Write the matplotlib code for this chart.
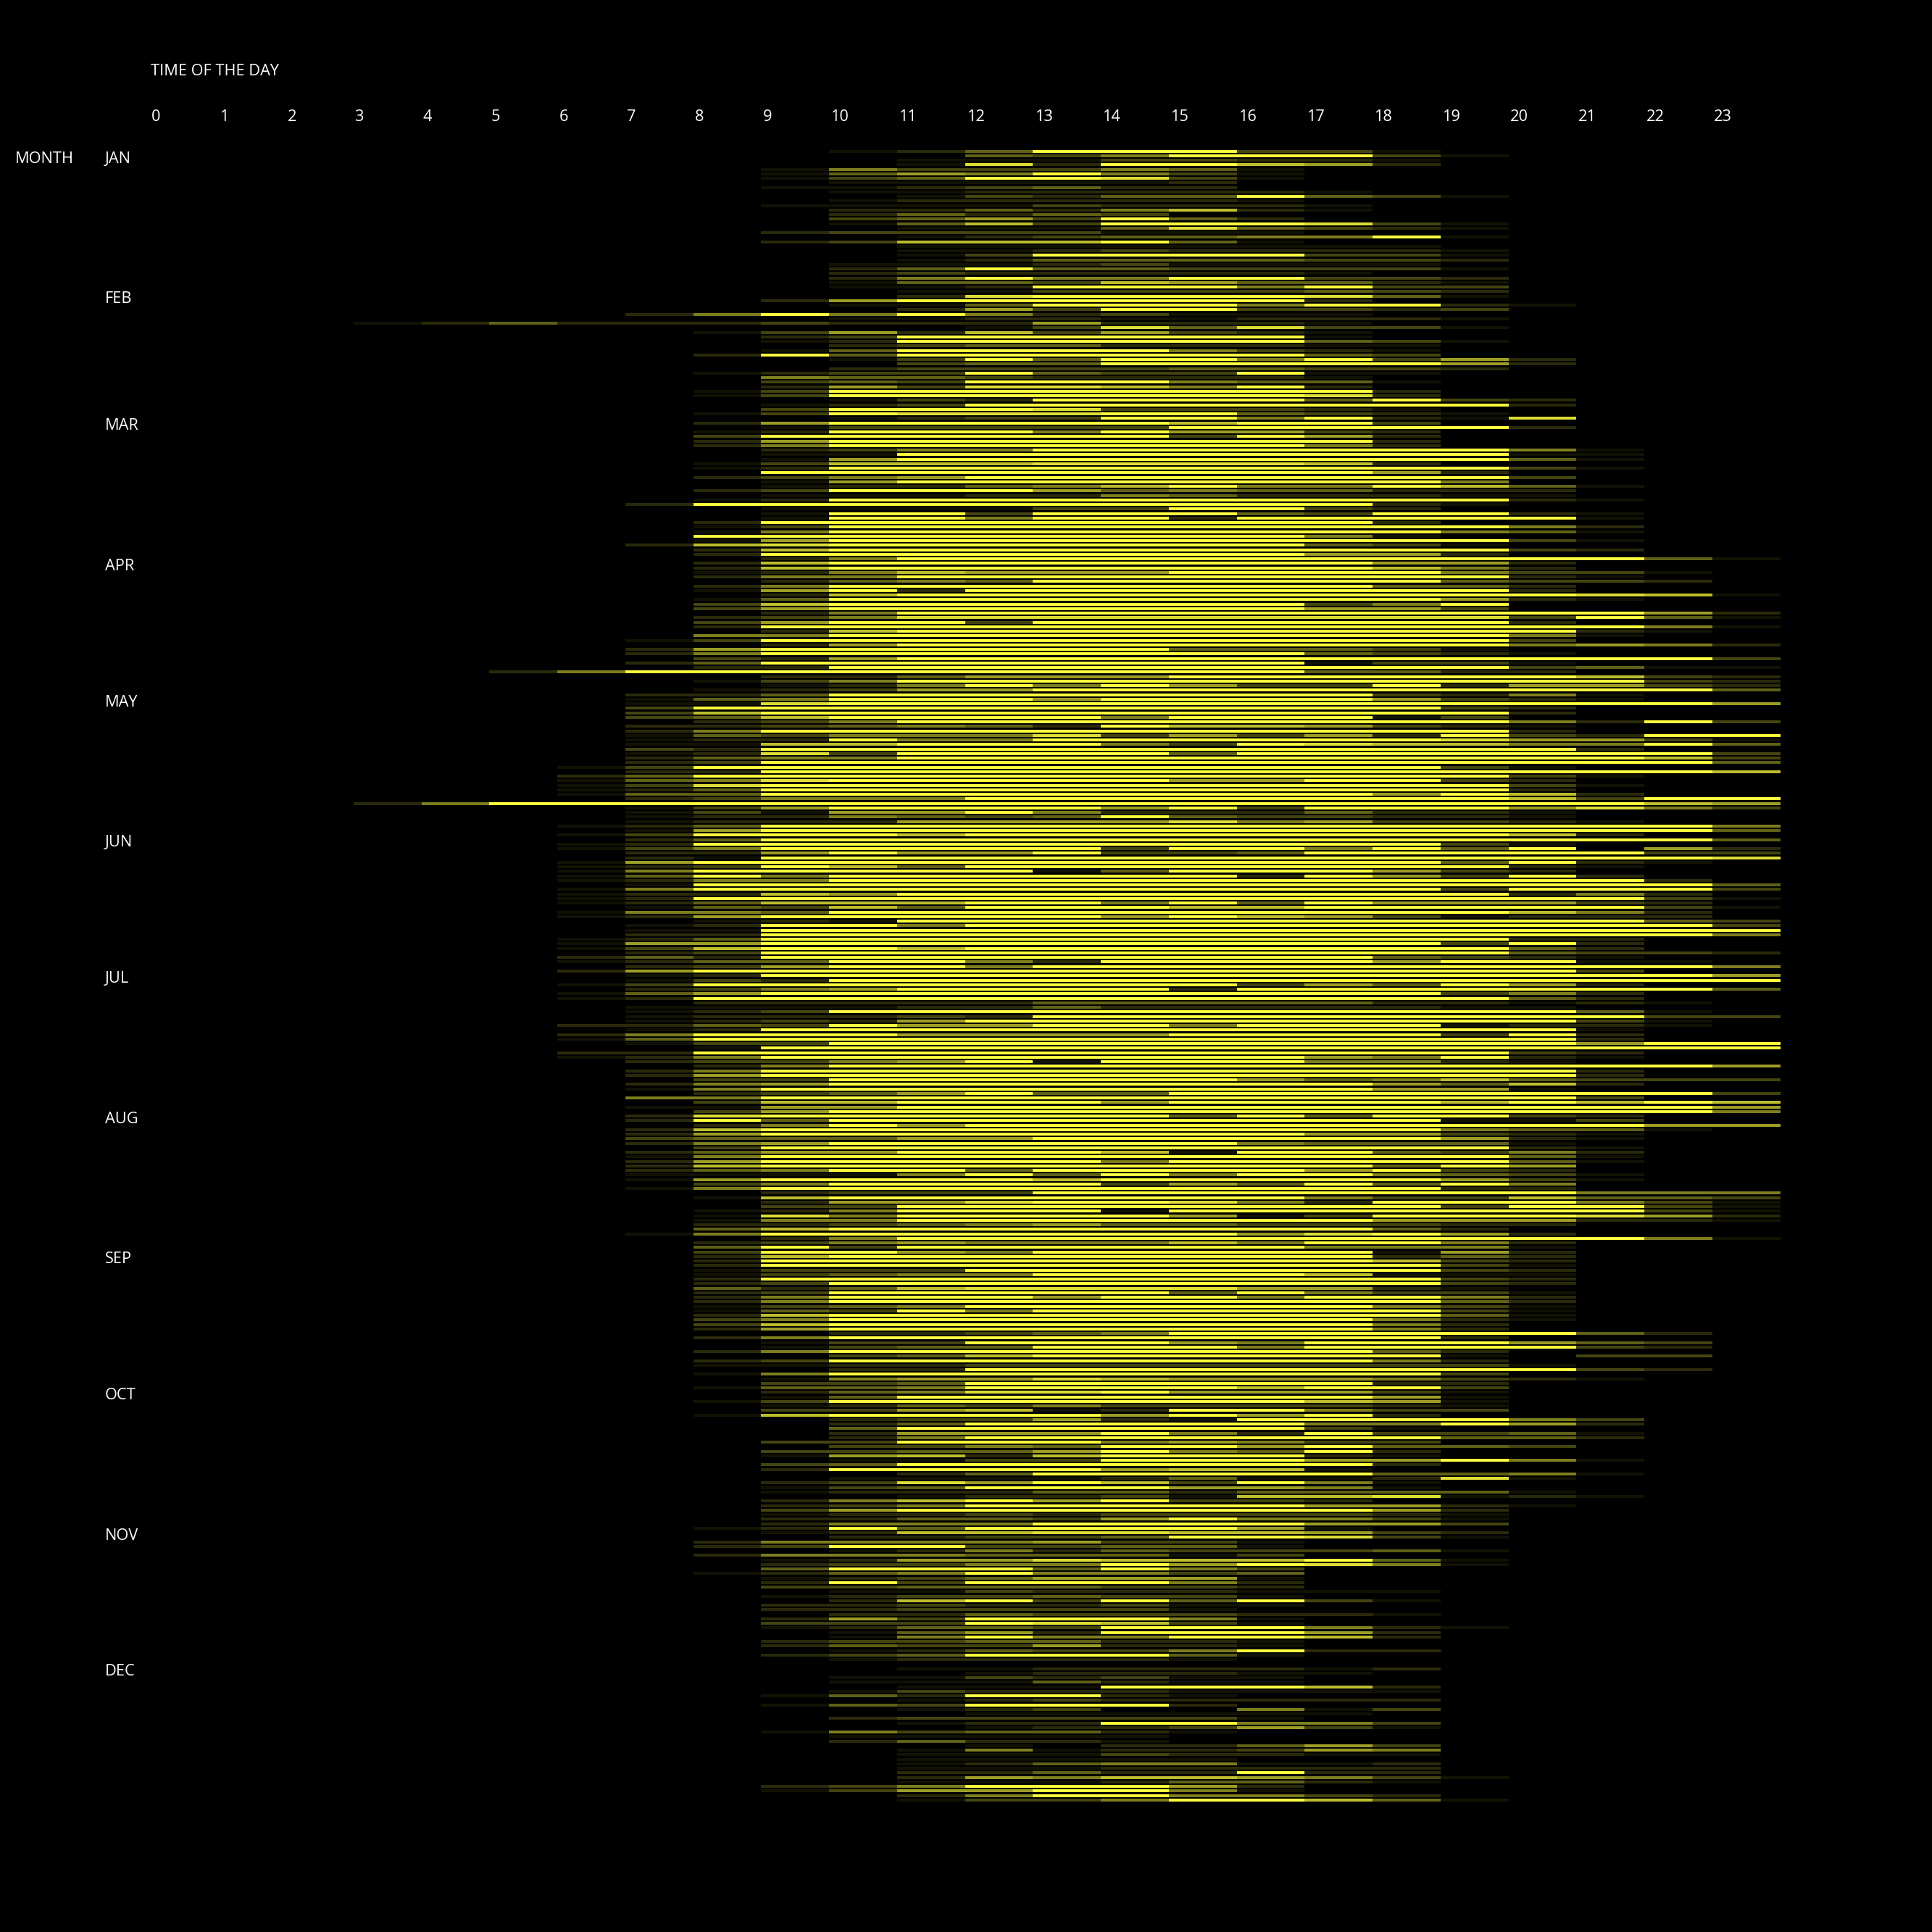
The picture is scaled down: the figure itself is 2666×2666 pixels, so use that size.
import matplotlib
matplotlib.use("Agg")
import matplotlib.pyplot as plt
import numpy as np

# Brightness, 0 (nothing) to 9 (full yellow).
# One string per day, hours 6 7 8, then 9 onwards. Missing digits at the end are 0.
JAN = ["000 0124999331", "000 00043599931", "000 0011133221", "000 0018299762", "000 15333541", "000 14659531", "000 13499831", "000 0111112", "000 1123422", "000 011222221", "000 00132449431", "000 01222221", "000 111132221", "000 022425721", "000 024243", "000 03463942", "000 01473999831", "000 00111484321", "000 23333111", "000 00123445591", "000 23777941", "000 0011111111", "000 00112322221", "000 00139999331", "000 00124444332", "000 0111231111", "000 02494433331", "000 023222221", "000 02595599332", "000 01443764421", "000 01129995933"]
FEB = ["000 00113333432", "000 00289999841", "000 269999992", "000 011499959921", "000 00263993323", "025 959523111", "000 01122112221", "222 322262221", "000 00013848331", "001 362736321", "000 239999991", "000 12999999431", "000 0234422211", "000 1499995321", "002 9499999943", "000 013949959362", "000 003449999962", "000 02333344332", "001 2339433911", "000 544322221", "000 3439995441", "000 263887592", "001 3999999992", "001 3999999982", "000 013299994932", "000 123999999992", "000 3999833321", "001 39888994321"]
MAR = ["000 012339959218", "002 6999997993", "000 133333999992", "001 2999596632", "003 9999993962", "002 6999999992", "002 5999999952", "000 2355999999951", "000 1199999999911", "000 1699999999941", "001 3777888872", "001 2999999999931", "000 99999999962", "002 356999999993", "000 16999999995", "000 1224579559741", "002 399964544222", "000 111225422211", "001 2999999999921", "029 99999999921", "000 1111339932", "000 1993999439921", "000 1995992999991", "002 9999999992", "001 3999999999952", "001 5999999999541", "009 9999999951", "001 6999999999931", "027 89999999431", "002 7999999999932", "002 99999999662"]
APR = ["000 259999999999941", "002 799999999662", "002 799999999752", "001 25766699995331", "002 5599999999921", "000 24549999994332", "002 599999999442", "001 692999999992", "000 279999999999871", "001 4999999999621", "003 79999999359", "003 69999999663", "000 259999999999962", "002 358888888883941", "003 699399999992", "002 999999999999951", "000 27999999999921", "005 5999999999951", "013 999999999993", "000 269999999995652", "026 99999944431", "025 999999994321", "003 269999999999993", "024 999999991331", "002 299999999993411", "599 999999994422", "000 224666999999732", "001 359999999999932", "000 125959633926632", "001 236699999999994"]
MAY = ["022 4999999993251", "014 5999699996321", "011 899999999999996", "039 999999999932", "037 999999999992", "034 79999599913", "002 359999999995293", "022 345429776321", "025 999999999992", "014 355583636293299", "012 295599999986631", "011 779995398775594", "032 9999999999992", "012 839999499999993", "024 559999999999973", "023 999999999999994", "139 999999999931", "022 999999999999997", "249 9999999999931", "145 899999669932", "138 9999999999931", "124 999999999992", "144 9999999996972", "023 555999999997399", "999 999999999999976", "013 699996939996853", "013 166952224221", "012 254349433221", "012 2266668563321", "124 999999999999995", "016 999999999999994"]
JUN = ["139 9979999999972", "024 999999999999994", "129 999999999931", "135 999993995949062", "022 696693349999933", "021 999999999999998", "169 99999999994921", "123 9749999999921", "159 999914999632", "149 5999999296392", "125 59999999999992", "019 999999999999994", "159 999999999939993", "122 76999999999252", "129 999999999999931", "124 77799594966632", "014 374999779999931", "155 49999999999752", "126 99999697631222", "001 219999999999943", "012 995999999999993", "011 999999999999999", "022 999999999999995", "124 9999999999922", "166 9999999999392", "137 9979999999942", "023 999999999994332", "242 9999999994321", "124 49952999969911", "023 699599999999995"]
JUL = ["269 9999999999993", "012 999999999999996", "013 299999999999999", "139 9999999364962", "023 569999299999994", "146 9999999999352", "129 9999999999942", "002 22224444422121", "011 112242222211", "012 39999999999941", "012 223299999999933", "012 32699999999931", "224 39669959991221", "012 9999999999991", "259 9966669999392", "149 9999999999992", "013 399999999999699", "001 999999999999999", "229 9999999999932", "125 9999999965921", "023 356919995521", "002 599999999999996", "025 9999999999992", "026 9999999999992", "003 399999964574333", "025 6999999996472", "015 999999999661", "002 346944999999993", "055 9999999999993", "003 779996999979797", "011 669999999999996"]
AUG = ["003 699999999999995", "028 9999994949932", "029 4999999999113", "002 596999999999966", "027 99999999995441", "026 9999999966321", "034 4466999999621", "025 699999954441", "003 9999999999921", "024 6699971994352", "015 9999999999941", "026 9999959999941", "027 999999999496", "024 599499996932", "011 1159495995431", "016 9999799999631", "003 599993649495", "015 999999999922", "000 233399999999555", "001 799999995337443", "000 266899852999531", "000 339999999939931", "001 259991999999931", "001 859999613999862", "001 559999999666221", "002 234564433322", "004 79999999942", "015 999999968962", "000 259999999999951", "002 356555759952", "004 939999995551"]
SEP = ["003 996599999162", "002 799999999242", "002 999999999732", "002 999999999931", "001 333999999932", "001 345599997111", "002 999999999932", "002 399999999932", "004 24788886621", "002 399999495331", "002 599969959952", "002 599999999942", "001 345999999531", "001 439599999931", "002 799999999941", "003 599999999521", "003 79999999952", "002 69999999952", "000 02234599999942", "002 59999999992", "000 13399965999643", "000 13449995999932", "002 59999999942", "000 03479999991033", "002 39999999952", "001 122333333331", "000 02299999999932", "001 59999999993", "000 1566876665321", "000 33499999922"]
OCT = ["001 44599997993", "000 24588966631", "000 14999999961", "001 39999999761", "000 12435333321", "000 33671299533", "001 7999969692", "000 0233621999953", "000 0249999955962", "000 0499999931", "000 0266695293341", "000 0259999999442", "000 3399956533", "000 033549969443", "000 3344695492", "000 1672799921", "000 0113399966951", "000 3499999992", "000 299996771", "000 0024999994451", "000 011112411281", "000 2386973951", "000 1349996651", "000 122244244441", "000 0012231778121", "000 257969332", "000 235999996621", "000 36999999962", "000 12232333321", "000 22443695531", "000 25559999663"]
NOV = ["001 294999961", "000 12778877632", "000 02233499831", "002 55556331", "002 39933441", "000 01252433341", "002 55544413", "000 12668777941", "000 23355969851", "000 49994953", "001 24595534", "000 12346661", "000 29399952", "000 33444332", "000 0113222111", "000 12334331", "000 0279394931", "000 22322311", "000 2233331", "000 0224333221", "000 26399951", "000 33398731", "000 12443999521", "000 0146299962", "000 0159559972", "000 23344221", "000 24336221", "000 0124335922", "000 23499941", "000 0122221"]
DEC = ["000", "000 0011222212", "000 000122211", "000 01132311", "000 01114211", "000 0011199972", "000 0132221111", "000 1429921", "000 0012322222", "000 1439992", "000 0012300513", "000 000111111", "000 02333331", "000 0012299553", "000 0001223631", "000 1534421", "000 011111", "000 024221", "000 0001022463", "000 0015122365", "000 0011132211", "000 0011111", "000 0012455112", "000 0011122222", "000 0022422922", "000 00265776531", "000 0011124421", "000 23599962", "000 13669951", "000 0025995532", "000 00133599741"]

# the few days with anything before 6 o'clock: day -> hours 3, 4, 5
EARLY_DAYS = {38: [1, 2, 4], 115: [0, 0, 2], 144: [2, 5, 9]}

MONTH_NAMES = ["JAN", "FEB", "MAR", "APR", "MAY", "JUN", "JUL", "AUG", "SEP", "OCT", "NOV", "DEC"]
MONTH_ROWS = [JAN, FEB, MAR, APR, MAY, JUN, JUL, AUG, SEP, OCT, NOV, DEC]
HOURS = list(range(24))


def build_levels():
    """Turn the month strings into a days x hours array of 0-1 brightness."""
    rows = [r.replace(" ", "").ljust(18, "0") for month in MONTH_ROWS for r in month]
    levels = np.zeros((len(rows), 24))
    for day, row in enumerate(rows):
        levels[day, 6:] = [int(c) / 9 for c in row]
    for day, vals in EARLY_DAYS.items():
        levels[day, 3:6] = np.array(vals) / 9
    return levels


levels = build_levels()
days = np.arange(levels.shape[0])

W = 2666.0
fig = plt.figure(figsize=(26.66, 26.66), dpi=100, facecolor="black")
# plot area in pixels: left 206.6, right 2456.6, top 205.6, bottom 2486.9
ax = fig.add_axes([206.6 / W, 1 - 2486.9 / W, 2250 / W, 2281.3 / W], facecolor="black")

for hour in HOURS:
    vals = levels[:, hour]
    keep = vals > 0
    # the dim end looks darker in the reference than a straight ramp
    colors = np.outer(vals[keep] ** 1.2, [1.0, 1.0, 0.24])
    ax.barh(days[keep], 1.0, left=hour, height=0.64, color=colors, align="center", linewidth=0)

ax.set_xlim(0, 24)
ax.set_ylim(days[-1] + 0.5, -0.5)
ax.axis("off")

font = {"family": "Open Sans", "color": "white", "fontsize": 15.7}


def px_text(x, y, s):
    fig.text(x / W, 1 - y / W, s, ha="left", va="center", **font)


px_text(208.5, 98.5, "TIME OF THE DAY")
for hour in HOURS:
    px_text(209 + hour * 93.75, 161.5, str(hour))

px_text(21, 219.5, "MONTH")
start = 0
for name, month in zip(MONTH_NAMES, MONTH_ROWS):
    px_text(145, 208.7 + 6.25 * start + 10.5, name)
    start += len(month)

fig.savefig("out.png", dpi=100, facecolor="black")
